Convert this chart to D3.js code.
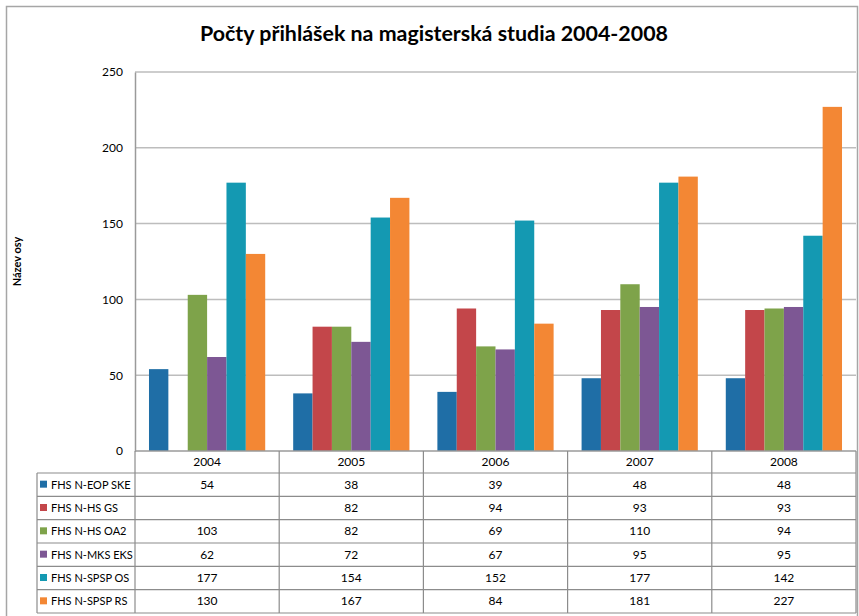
<!DOCTYPE html>
<html>
<head>
<meta charset="utf-8">
<script src="https://cdn.jsdelivr.net/npm/d3@7"></script>
<style>
  body { margin: 0; background: #fff; }
  svg { display: block; font-family: Lato, "Open Sans", sans-serif; }
</style>
</head>
<body>
<div id="chart"></div>
<script>
// data
var years = ["2004", "2005", "2006", "2007", "2008"];
var series = ["FHS N-EOP SKE", "FHS N-HS GS", "FHS N-HS OA2", "FHS N-MKS EKS", "FHS N-SPSP OS", "FHS N-SPSP RS"];
var eopSke = [54, 38, 39, 48, 48];
var hsGs = [null, 82, 94, 93, 93];
var hsOa2 = [103, 82, 69, 110, 94];
var mksEks = [62, 72, 67, 95, 95];
var spspOs = [177, 154, 152, 177, 142];
var spspRs = [130, 167, 84, 181, 227];
var yTicks = [0, 50, 100, 150, 200, 250];

var values = [eopSke, hsGs, hsOa2, mksEks, spspOs, spspRs];
var colors = ["#1f6ea6", "#c3464a", "#7ea34a", "#7d5794", "#1499b2", "#f38734"];

var width = 859, height = 616;
var plot = {left: 135, right: 856, top: 72, bottom: 451};
var table = {left: 37, header: 473, bottom: 613};

var svg = d3.select("#chart").append("svg")
  .attr("width", width)
  .attr("height", height);

// chart frame
svg.append("rect")
  .attr("x", 6.5).attr("y", 6.5)
  .attr("width", 851).attr("height", 620)
  .attr("fill", "none")
  .attr("stroke", "#a6a6a6")
  .attr("stroke-width", 1.5);

// title
svg.append("text")
  .attr("x", 434)
  .attr("y", 41)
  .attr("text-anchor", "middle")
  .style("font-size", "21.4px")
  .style("font-weight", "bold")
  .text("Počty přihlášek na magisterská studia 2004-2008");

var y = d3.scaleLinear()
  .domain([0, 250])
  .range([plot.bottom, plot.top]);

var x0 = d3.scaleBand()
  .domain(years)
  .range([plot.left, plot.right]);

var x1 = d3.scaleBand()
  .domain(series)
  .range([x0.bandwidth() * 0.097, x0.bandwidth() * 0.903]);

// gridlines
svg.append("g")
  .selectAll("line")
  .data(yTicks.filter(function(d) { return d > 0; }))
  .enter().append("line")
  .attr("x1", plot.left).attr("x2", plot.right)
  .attr("y1", function(d) { return y(d); })
  .attr("y2", function(d) { return y(d); })
  .attr("stroke", "#bdbdbd")
  .attr("stroke-width", 1.5);

// y axis labels
var yAxis = svg.append("g")
  .attr("transform", "translate(" + plot.left + ",0)")
  .call(d3.axisLeft(y).tickValues(yTicks).tickSize(0).tickPadding(12));
yAxis.select(".domain").attr("stroke", "#9a9a9a").attr("stroke-width", 1.5);
yAxis.selectAll("text")
  .style("font-size", "12px")
  .style("font-family", "Lato, 'Open Sans', sans-serif")
  .attr("fill", "#000");

// axis title
svg.append("text")
  .attr("transform", "translate(21," + (plot.top + plot.bottom) / 2 + ") rotate(-90)")
  .attr("text-anchor", "middle")
  .style("font-size", "11px")
  .style("font-weight", "bold")
  .text("Název osy");

// bars
var groups = svg.append("g")
  .selectAll("g")
  .data(years)
  .enter().append("g")
  .attr("transform", function(d) { return "translate(" + x0(d) + ",0)"; });

groups.selectAll("rect")
  .data(function(d, i) {
    return series.map(function(s, j) { return {s: s, v: values[j][i], c: colors[j]}; });
  })
  .enter().filter(function(d) { return d.v != null; })
  .append("rect")
  .attr("x", function(d) { return x1(d.s); })
  .attr("width", x1.bandwidth())
  .attr("y", function(d) { return y(d.v); })
  .attr("height", function(d) { return y(0) - y(d.v); })
  .attr("fill", function(d) { return d.c; });

// data table
var row = d3.scaleBand()
  .domain(series)
  .range([table.header, table.bottom]);

var lineColor = "#8c8c8c";
var grid = svg.append("g").attr("stroke", lineColor).attr("stroke-width", 1.2);

// bottom axis line
grid.append("line")
  .attr("x1", plot.left).attr("x2", plot.right)
  .attr("y1", plot.bottom).attr("y2", plot.bottom)
  .attr("stroke", "#9a9a9a").attr("stroke-width", 1.5);

// horizontal lines
grid.selectAll(".hrow")
  .data(series.concat(["end"]))
  .enter().append("line")
  .attr("x1", table.left).attr("x2", plot.right)
  .attr("y1", function(d) { return d === "end" ? table.bottom : row(d); })
  .attr("y2", function(d) { return d === "end" ? table.bottom : row(d); });

// vertical lines
grid.selectAll(".vcol")
  .data(years.concat(["end"]))
  .enter().append("line")
  .attr("x1", function(d) { return d === "end" ? plot.right : x0(d); })
  .attr("x2", function(d) { return d === "end" ? plot.right : x0(d); })
  .attr("y1", plot.bottom).attr("y2", table.bottom);

grid.append("line")
  .attr("x1", table.left).attr("x2", table.left)
  .attr("y1", table.header).attr("y2", table.bottom);

// header year labels
svg.append("g")
  .selectAll("text")
  .data(years)
  .enter().append("text")
  .attr("x", function(d) { return x0(d) + x0.bandwidth() / 2; })
  .attr("y", (plot.bottom + table.header) / 2 + 4)
  .attr("text-anchor", "middle")
  .style("font-size", "12px")
  .text(function(d) { return d; });

// row labels with colour keys
var rows = svg.append("g")
  .selectAll("g")
  .data(series)
  .enter().append("g")
  .attr("transform", function(d) { return "translate(0," + (row(d) + row.bandwidth() / 2) + ")"; });

rows.append("rect")
  .attr("x", 40).attr("y", -4)
  .attr("width", 7).attr("height", 7)
  .attr("fill", function(d, i) { return colors[i]; });

rows.append("text")
  .attr("x", 51)
  .attr("y", 4)
  .style("font-size", "11px")
  .text(function(d) { return d; });

rows.selectAll(".val")
  .data(function(d, i) { return values[i].map(function(v, k) { return {v: v, year: years[k]}; }); })
  .enter().append("text")
  .attr("x", function(d) { return x0(d.year) + x0.bandwidth() / 2; })
  .attr("y", 4)
  .attr("text-anchor", "middle")
  .style("font-size", "12px")
  .text(function(d) { return d.v == null ? "" : d.v; });
</script>
</body>
</html>
